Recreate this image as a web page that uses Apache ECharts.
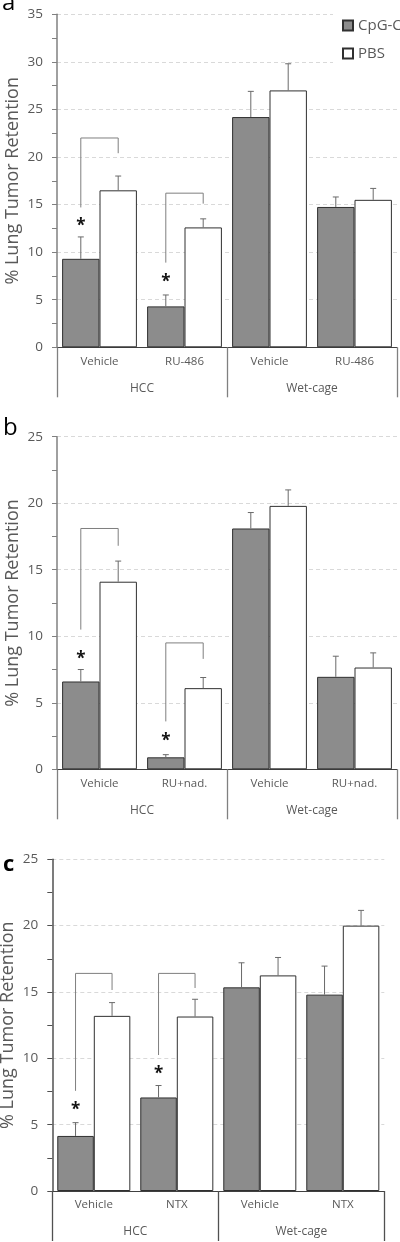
<!DOCTYPE html>
<html>
<head>
<meta charset="utf-8">
<script src="https://cdn.jsdelivr.net/npm/echarts@6/dist/echarts.min.js"></script>
<style>html,body{margin:0;padding:0;background:#fff}#c{width:400px;height:1242px}</style>
</head>
<body>
<div id="c"></div>
<script>
// ---- data ----
const groups = ['HCC', 'Wet-cage'];
const seriesNames = ['CpG-C', 'PBS'];

const catsA = ['Vehicle', 'RU-486', 'Vehicle', 'RU-486'];
const cpgA = [9.3, 4.3, 24.2, 14.75];
const cpgErrA = [2.3, 1.2, 2.7, 1.05];
const pbsA = [16.5, 12.6, 27.0, 15.5];
const pbsErrA = [1.5, 0.9, 2.8, 1.2];
const bracketsA = [[0, 14.7, 22.0, 20.4], [1, 8.9, 16.2, 15.1]];
const starsA = [[0, 13.2], [1, 7.3]];
const yMaxA = 35;

const catsB = ['Vehicle', 'RU+nad.', 'Vehicle', 'RU+nad.'];
const cpgB = [6.6, 0.9, 18.1, 6.95];
const cpgErrB = [0.9, 0.2, 1.2, 1.55];
const pbsB = [14.1, 6.1, 19.8, 7.65];
const pbsErrB = [1.55, 0.8, 1.2, 1.1];
const bracketsB = [[0, 10.5, 18.1, 16.8], [1, 3.6, 9.5, 8.3]];
const starsB = [[0, 8.6], [1, 2.45]];
const yMaxB = 25;

const catsC = ['Vehicle', 'NTX', 'Vehicle', 'NTX'];
const cpgC = [4.15, 7.05, 15.35, 14.8];
const cpgErrC = [1.0, 0.9, 1.85, 2.15];
const pbsC = [13.2, 13.15, 16.25, 20.0];
const pbsErrC = [1.0, 1.3, 1.35, 1.15];
const bracketsC = [[0, 7.55, 16.4, 15.15], [1, 10.25, 16.4, 15.3]];
const starsC = [[0, 6.4], [1, 9.1]];
const yMaxC = 25;

const yInterval = 5;
const yTitle = '% Lung Tumor Retention';
const panelLetters = ['a', 'b', 'c'];

// ---- styles ----
const FONT = 'Open Sans';
const TXT = '#595959';
const GRAY = '#8c8c8c';
const EDGE = '#303030';
const CAT_GAP = 0.12;

function errRender(side) {
  return function (params, api) {
    const idx = api.value(0), v = api.value(1), e = api.value(2);
    const p0 = api.coord([idx, v]);
    const p1 = api.coord([idx, v + e]);
    const band = api.size([1, 0])[0];
    const bw = band * (1 - CAT_GAP) / 2;
    const x = p0[0] + side * bw / 2;
    return {
      type: 'group', children: [
        {type: 'line', shape: {x1: x, y1: p0[1], x2: x, y2: p1[1]}, style: {stroke: '#6a6a6a', lineWidth: 1}},
        {type: 'line', shape: {x1: x - 3, y1: p1[1], x2: x + 3, y2: p1[1]}, style: {stroke: '#6a6a6a', lineWidth: 1}}
      ]
    };
  };
}
function bracketRender(params, api) {
  const idx = api.value(0);
  const pl = api.coord([idx, api.value(1)]);
  const pt = api.coord([idx, api.value(2)]);
  const pr = api.coord([idx, api.value(3)]);
  const band = api.size([1, 0])[0];
  const bw = band * (1 - CAT_GAP) / 2;
  const xl = pl[0] - bw / 2, xr = pl[0] + bw / 2;
  return {type: 'polyline', shape: {points: [[xl, pl[1]], [xl, pt[1]], [xr, pt[1]], [xr, pr[1]]]},
    style: {stroke: '#7f7f7f', lineWidth: 1, fill: null}};
}
function starRender(params, api) {
  const idx = api.value(0);
  const p = api.coord([idx, api.value(1)]);
  const band = api.size([1, 0])[0];
  const bw = band * (1 - CAT_GAP) / 2;
  return {type: 'text', x: p[0] - bw / 2, y: p[1] + 4,
    style: {text: '*', fontSize: 17, fontWeight: 'bold', fontFamily: FONT, fill: '#111', align: 'center', verticalAlign: 'middle'}};
}

const grids = [], xAxes = [], yAxes = [], series = [];
function addPanel(i, box, cats, yMax, cpg, cpgErr, pbs, pbsErr, brackets, stars, axisColor) {
  grids.push(Object.assign({containLabel: false, outerBoundsMode: 'none'}, box));
  xAxes.push({
    type: 'category', gridIndex: i, data: cats, position: 'bottom',
    axisLine: {show: true, lineStyle: {color: '#404040', width: 1}},
    axisTick: {show: false},
    axisLabel: {color: TXT, fontSize: 11.5, fontFamily: FONT, margin: 8, interval: 0, hideOverlap: false}
  });
  xAxes.push({
    type: 'category', gridIndex: i, data: groups, position: 'bottom',
    axisLine: {show: false},
    axisTick: {show: true, length: 50, lineStyle: {color: axisColor, width: 1.3}},
    axisLabel: {color: TXT, fontSize: 12, fontFamily: FONT, margin: 35, interval: 0}
  });
  yAxes.push({
    type: 'value', gridIndex: i, min: 0, max: yMax, interval: yInterval,
    name: yTitle, nameLocation: 'middle', nameGap: 35, nameMoveOverlap: false,
    nameTextStyle: {color: TXT, fontSize: 18, fontFamily: FONT},
    axisLine: {show: true, lineStyle: {color: axisColor, width: 1.5}},
    axisTick: {show: true, length: 5, lineStyle: {color: axisColor}},
    minorTick: {show: true, splitNumber: 2, length: 5, lineStyle: {color: axisColor}},
    axisLabel: {color: TXT, fontSize: 13.5, fontFamily: FONT, margin: 14},
    splitLine: {show: true, lineStyle: {color: '#d9d9d9', type: [4, 3], width: 1}}
  });
  const xi = i * 2, yi = i;
  series.push({
    name: seriesNames[0], type: 'bar', xAxisIndex: xi, yAxisIndex: yi, data: cpg,
    barGap: '0%', barCategoryGap: (CAT_GAP * 100) + '%',
    itemStyle: {color: GRAY, borderColor: EDGE, borderWidth: 1}
  });
  series.push({
    name: seriesNames[1], type: 'bar', xAxisIndex: xi, yAxisIndex: yi, data: pbs,
    barGap: '0%', barCategoryGap: (CAT_GAP * 100) + '%',
    itemStyle: {color: '#ffffff', borderColor: EDGE, borderWidth: 1}
  });
  series.push({type: 'custom', xAxisIndex: xi, yAxisIndex: yi, renderItem: errRender(-1), z: 5,
    data: cpg.map((v, k) => [k, v, cpgErr[k]]), encode: {x: 0, y: 1}, silent: true});
  series.push({type: 'custom', xAxisIndex: xi, yAxisIndex: yi, renderItem: errRender(1), z: 5,
    data: pbs.map((v, k) => [k, v, pbsErr[k]]), encode: {x: 0, y: 1}, silent: true});
  series.push({type: 'custom', xAxisIndex: xi, yAxisIndex: yi, renderItem: bracketRender, z: 5,
    data: brackets, encode: {x: 0, y: [1, 2, 3]}, silent: true});
  series.push({type: 'custom', xAxisIndex: xi, yAxisIndex: yi, renderItem: starRender, z: 6,
    data: stars, encode: {x: 0, y: 1}, silent: true});
}

addPanel(0, {left: 57, top: 14.3, width: 340, height: 333}, catsA, yMaxA, cpgA, cpgErrA, pbsA, pbsErrA, bracketsA, starsA, '#808080');
addPanel(1, {left: 57, top: 436.7, width: 340, height: 332.6}, catsB, yMaxB, cpgB, cpgErrB, pbsB, pbsErrB, bracketsB, starsB, '#808080');
addPanel(2, {left: 52.3, top: 859.3, width: 332, height: 331.7}, catsC, yMaxC, cpgC, cpgErrC, pbsC, pbsErrC, bracketsC, starsC, '#505050');

const option = {
  animation: false,
  backgroundColor: '#fff',
  textStyle: {fontFamily: FONT},
  grid: grids, xAxis: xAxes, yAxis: yAxes, series: series,
  legend: {
    data: seriesNames, orient: 'vertical', left: 333, top: 12,
    padding: [6, 10, 6, 9], itemGap: 13, itemWidth: 10, itemHeight: 10,
    icon: 'rect', backgroundColor: '#fff',
    textStyle: {color: TXT, fontSize: 15, fontFamily: FONT}, selectedMode: false
  },
  graphic: [
    {type: 'text', left: 2, top: -9, style: {text: panelLetters[0], fontSize: 24, fontFamily: FONT, fill: '#000'}},
    {type: 'text', left: 3, top: 416, style: {text: panelLetters[1], fontSize: 24, fontFamily: FONT, fill: '#000'}},
    {type: 'text', left: 3, top: 854, style: {text: panelLetters[2], fontSize: 22, fontWeight: 'bold', fontFamily: FONT, fill: '#000'}}
  ]
};
echarts.init(document.getElementById('c'), null, {renderer: 'canvas'}).setOption(option);
</script>
</body>
</html>
